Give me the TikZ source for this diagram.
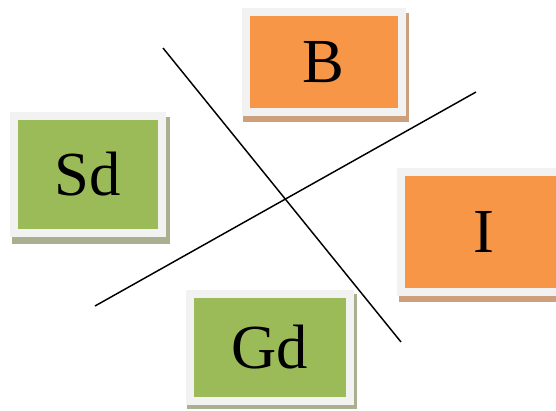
\documentclass[tikz,border=0pt]{standalone}
\usepackage{fontspec}
\setmainfont{Liberation Serif}
\definecolor{boxorange}{HTML}{F79646}
\definecolor{boxgreen}{HTML}{9BBB59}
\definecolor{framegray}{HTML}{F2F2F2}
\definecolor{oshadow}{RGB}{205,160,125}
\definecolor{gshadow}{RGB}{168,176,143}
\begin{document}
\begin{tikzpicture}[x=0.75pt,y=-0.75pt,
  box/.style={draw=framegray, line width=6pt, inner sep=0pt, font=\fontsize{47}{52}\selectfont},
  cross/.style={draw=black, line width=1.1pt}]
\clip (0,0) rectangle (556,410);
% shadows
\fill[oshadow] (243,12.7) rectangle (409,121.7);
\fill[gshadow] (11.7,116.7) rectangle (170,244.3);
\fill[oshadow] (399.3,173) rectangle (570,301.7);
\fill[gshadow] (187,294) rectangle (356.7,409.3);
% boxes
\node[box, fill=boxorange, minimum width=117pt, minimum height=74.55pt] (b) at (323.7,62) {B};
\node[box, fill=boxgreen, minimum width=111pt, minimum height=87.75pt] (sd) at (88,174.2) {Sd};
\node[box, fill=boxorange, minimum width=123.5pt, minimum height=89.8pt] (i) at (483.65,232.15) {I};
\node[box, fill=boxgreen, minimum width=120pt, minimum height=80.25pt] (gd) at (270,347.5) {Gd};
% crossing lines
\coordinate (l1a) at (163,48);
\coordinate (l1b) at (401,342);
\coordinate (l2a) at (95,306);
\coordinate (l2b) at (476,92);
\draw[cross] (l1a) -- (l1b);
\draw[cross] (l2a) -- (l2b);
\end{tikzpicture}
\end{document}
